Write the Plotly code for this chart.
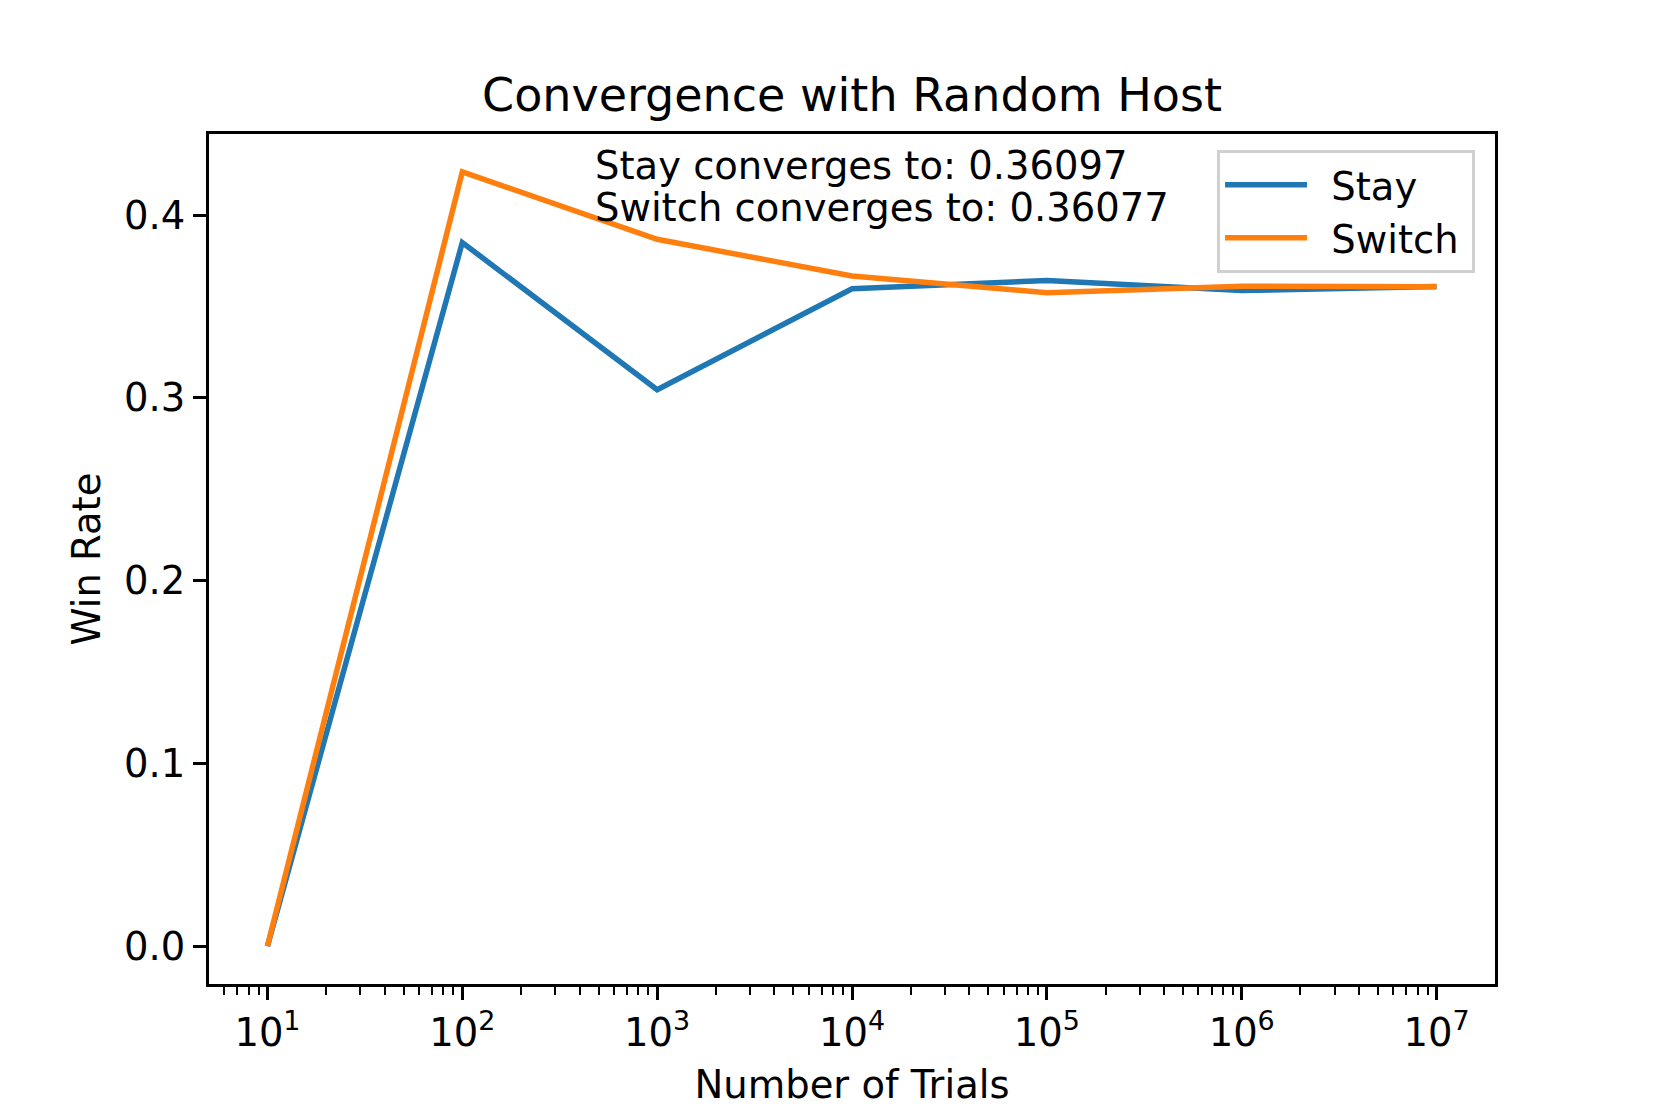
import plotly.graph_objects as go

trials = [10, 100, 1000, 10000, 100000, 1000000, 10000000]
stay_rate = [0.0, 0.385, 0.3045, 0.3597, 0.3642, 0.3587, 0.36097]
switch_rate = [0.0, 0.4237, 0.3868, 0.3667, 0.3576, 0.3611, 0.36077]
series_names = ["Stay", "Switch"]
x_tick_vals = [10, 100, 1000, 10000, 100000, 1000000, 10000000]
x_tick_text = ["10<sup>1</sup>", "10<sup>2</sup>", "10<sup>3</sup>", "10<sup>4</sup>",
               "10<sup>5</sup>", "10<sup>6</sup>", "10<sup>7</sup>"]
y_tick_vals = [0.0, 0.1, 0.2, 0.3, 0.4]
stay_final = 0.36097
switch_final = 0.36077

minor_vals = [m * 10 ** e for e in range(0, 8) for m in range(2, 10)]

FONT = "DejaVu Sans"
FS = 38.5
GAP = "\u2002"
TAIL = "\u2009"
fig = go.Figure()
fig.add_trace(go.Scatter(x=trials, y=stay_rate, mode="lines", name=GAP + series_names[0] + TAIL,
                         line=dict(color="#1f77b4", width=5.5)))
fig.add_trace(go.Scatter(x=trials, y=switch_rate, mode="lines", name=GAP + series_names[1] + TAIL,
                         line=dict(color="#ff7f0e", width=5.5)))

fig.update_layout(
    width=1661, height=1107,
    paper_bgcolor="white", plot_bgcolor="white",
    margin=dict(l=209, r=166, t=134, b=123),
    font=dict(family=FONT, size=FS, color="black"),
    title=dict(text="Convergence with Random Host", x=(209 + 1495) / 2 / 1661, xanchor="center",
               y=1 - 95 / 1107, yanchor="middle", font=dict(size=46)),
    showlegend=True,
    legend=dict(x=0.9845, xanchor="right", y=0.981, yanchor="top",
                bgcolor="rgba(255,255,255,0.8)", bordercolor="#d0d0d0", borderwidth=3,
                font=dict(size=FS), itemwidth=82, tracegroupgap=0),
)

fig.update_xaxes(
    type="log", range=[0.7, 7.3], automargin=False,
    showline=True, linecolor="black", linewidth=3, mirror=True,
    showgrid=False, zeroline=False,
    ticks="outside", ticklen=13, tickwidth=3, tickcolor="black",
    tickvals=x_tick_vals, ticktext=x_tick_text, tickfont=dict(size=FS),
    minor=dict(ticks="outside", ticklen=7.5, tickwidth=2.2, tickcolor="black",
               tickvals=minor_vals, showgrid=False),
    title=dict(text="Number of Trials", font=dict(size=FS), standoff=20),
)
fig.update_yaxes(
    range=[-0.0207, 0.4444], automargin=False,
    showline=True, linecolor="black", linewidth=3, mirror=True,
    showgrid=False, zeroline=False,
    ticks="outside", ticklen=13, tickwidth=3, tickcolor="black",
    tickvals=y_tick_vals, tickformat=".1f", tickfont=dict(size=FS),
    title=dict(text="Win Rate", font=dict(size=FS), standoff=12),
)

fig.add_annotation(text=f"Stay converges to: {stay_final}", xref="paper", yref="paper",
                   x=0.2985, y=1 - (166 - 134) / 850, xanchor="left", yanchor="middle",
                   showarrow=False, font=dict(size=FS))
fig.add_annotation(text=f"Switch converges to: {switch_final}", xref="paper", yref="paper",
                   x=0.2985, y=1 - (207.6 - 134) / 850, xanchor="left", yanchor="middle",
                   showarrow=False, font=dict(size=FS))

fig.write_html("out.html", config={"displayModeBar": False},
               post_script="document.body.style.margin='0';document.body.style.overflow='hidden';")
